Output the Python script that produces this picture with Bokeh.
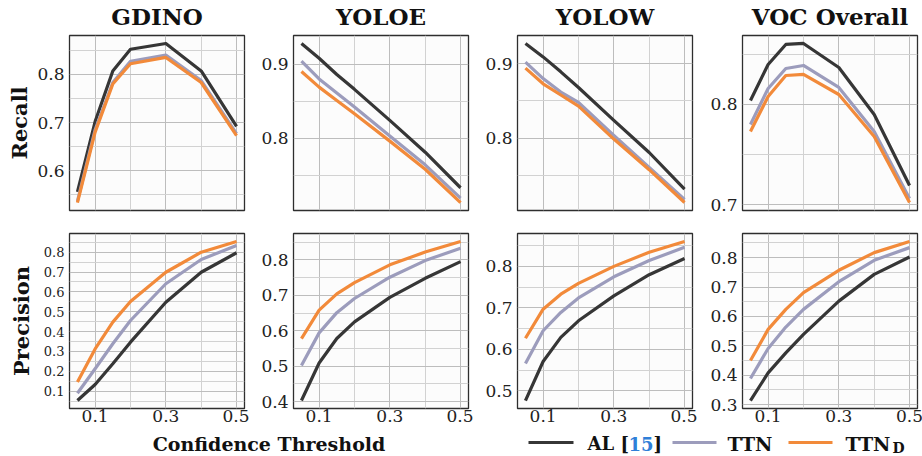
from bokeh.plotting import figure
from bokeh.layouts import column, row
from bokeh.models import Range1d, FixedTicker
from bokeh.embed import file_html
from bokeh.resources import INLINE
from bokeh.core.properties import value

# ---------------- data ----------------
thresholds = [0.05, 0.1, 0.15, 0.2, 0.3, 0.4, 0.5]
x_tick_labels = [0.1, 0.3, 0.5]
x_minor_ticks = [0.2, 0.4]
datasets = ["GDINO", "YOLOE", "YOLOW", "VOC Overall"]
series_names = ["AL [15]", "TTN", "TTN_D"]

recall_gdino_al = [0.556, 0.702, 0.807, 0.852, 0.864, 0.807, 0.692]
recall_gdino_ttn = [0.537, 0.685, 0.783, 0.827, 0.840, 0.787, 0.677]
recall_gdino_ttnd = [0.534, 0.680, 0.780, 0.822, 0.835, 0.783, 0.673]

recall_yoloe_al = [0.928, 0.908, 0.886, 0.866, 0.824, 0.781, 0.733]
recall_yoloe_ttn = [0.904, 0.880, 0.861, 0.842, 0.803, 0.764, 0.719]
recall_yoloe_ttnd = [0.890, 0.869, 0.851, 0.833, 0.796, 0.758, 0.713]

recall_yolow_al = [0.927, 0.909, 0.889, 0.868, 0.824, 0.781, 0.732]
recall_yolow_ttn = [0.902, 0.880, 0.862, 0.848, 0.804, 0.761, 0.718]
recall_yolow_ttnd = [0.894, 0.873, 0.858, 0.843, 0.799, 0.758, 0.714]

recall_voc_al = [0.804, 0.840, 0.860, 0.861, 0.837, 0.790, 0.719]
recall_voc_ttn = [0.780, 0.816, 0.836, 0.839, 0.817, 0.773, 0.706]
recall_voc_ttnd = [0.773, 0.808, 0.829, 0.830, 0.810, 0.768, 0.702]

precision_gdino_al = [0.053, 0.134, 0.238, 0.347, 0.548, 0.699, 0.797]
precision_gdino_ttn = [0.090, 0.213, 0.339, 0.456, 0.641, 0.763, 0.834]
precision_gdino_ttnd = [0.146, 0.313, 0.448, 0.552, 0.699, 0.800, 0.854]

precision_yoloe_al = [0.403, 0.509, 0.578, 0.625, 0.694, 0.748, 0.795]
precision_yoloe_ttn = [0.502, 0.594, 0.651, 0.691, 0.751, 0.798, 0.833]
precision_yoloe_ttnd = [0.578, 0.658, 0.704, 0.736, 0.786, 0.822, 0.852]

precision_yolow_al = [0.477, 0.571, 0.629, 0.669, 0.729, 0.780, 0.819]
precision_yolow_ttn = [0.566, 0.645, 0.689, 0.724, 0.775, 0.814, 0.846]
precision_yolow_ttnd = [0.627, 0.697, 0.733, 0.759, 0.800, 0.834, 0.860]

precision_voc_al = [0.314, 0.408, 0.476, 0.539, 0.652, 0.743, 0.802]
precision_voc_ttn = [0.389, 0.491, 0.564, 0.624, 0.718, 0.791, 0.834]
precision_voc_ttnd = [0.450, 0.556, 0.624, 0.681, 0.757, 0.817, 0.855]

# y tick labels (major) and minor grid positions per panel
recall_gdino_ticks = [0.6, 0.7, 0.8]
recall_gdino_minor = [0.55, 0.65, 0.75, 0.85]
recall_yoloe_ticks = [0.8, 0.9]
recall_yoloe_minor = [0.75, 0.85]
recall_yolow_ticks = [0.8, 0.9]
recall_yolow_minor = [0.75, 0.85]
recall_voc_ticks = [0.7, 0.8]
recall_voc_minor = [0.75, 0.85]
precision_gdino_ticks = [0.1, 0.2, 0.3, 0.4, 0.5, 0.6, 0.7, 0.8]
precision_gdino_minor = [0.05, 0.15, 0.25, 0.35, 0.45, 0.55, 0.65, 0.75, 0.85]
precision_yoloe_ticks = [0.4, 0.5, 0.6, 0.7, 0.8]
precision_yoloe_minor = [0.45, 0.55, 0.65, 0.75, 0.85]
precision_yolow_ticks = [0.5, 0.6, 0.7, 0.8]
precision_yolow_minor = [0.45, 0.55, 0.65, 0.75, 0.85]
precision_voc_ticks = [0.3, 0.4, 0.5, 0.6, 0.7, 0.8]
precision_voc_minor = [0.35, 0.45, 0.55, 0.65, 0.75, 0.85]

# ---------------- style / layout constants ----------------
COLORS = ["#363636", "#9c9cbc", "#f28a3a"]
SERIF = "DejaVu Serif"
FRAME = 175
LEFTS = [69, 44, 44, 45]
RIGHTS = [5, 5, 5, 6]
WIDTHS = [l + FRAME + r for l, r in zip(LEFTS, RIGHTS)]
PAGE_W = sum(WIDTHS)
HEAD_H = 30
TOP_H = 190       # 5 + 175 + 10
BOT_H = 214       # 13 + 175 + 26
FOOT_H = 456 - HEAD_H - TOP_H - BOT_H


def padded(vals_list):
    mn = min(min(v) for v in vals_list)
    mx = max(max(v) for v in vals_list)
    d = (mx - mn) * 0.05
    return mn - d, mx + d


def strip(height):
    f = figure(width=PAGE_W, height=height, output_backend="svg", toolbar_location=None,
               title=None, x_range=Range1d(0, PAGE_W), y_range=Range1d(height, 0),
               x_axis_type=None, y_axis_type=None,
               min_border_left=0, min_border_right=0, min_border_top=0, min_border_bottom=0)
    f.outline_line_color = None
    f.background_fill_color = "white"
    f.border_fill_color = "white"
    f.xgrid.visible = False
    f.ygrid.visible = False
    return f


def panel(col, series, yt, ym, top_row, ylabel=None, tick_size="17px", label_standoff=2):
    lo, hi = padded(series)
    xlo, xhi = padded([thresholds])
    if top_row:
        h, tb, bb = TOP_H, 5, 10
    else:
        h, tb, bb = BOT_H, 13, 26
    p = figure(width=WIDTHS[col], height=h, output_backend="svg",
               toolbar_location=None, title=None,
               x_range=Range1d(xlo, xhi), y_range=Range1d(lo, hi),
               min_border_left=LEFTS[col], min_border_right=RIGHTS[col],
               min_border_top=tb, min_border_bottom=bb)
    p.background_fill_color = "#fcfcfc"
    p.border_fill_color = "white"
    p.outline_line_color = "#2e2e2e"
    p.outline_line_width = 1.3

    xt = FixedTicker(ticks=x_tick_labels, minor_ticks=x_minor_ticks)
    ytk = FixedTicker(ticks=yt, minor_ticks=ym)
    p.xaxis.ticker = xt
    p.yaxis.ticker = ytk
    p.xgrid.ticker = xt
    p.ygrid.ticker = ytk
    for g in (p.xgrid, p.ygrid):
        g.grid_line_color = "#bdbdbd"
        g.grid_line_width = 1
        g.minor_grid_line_color = "#d2d2d2"
        g.minor_grid_line_width = 1

    for ax in (p.xaxis, p.yaxis):
        ax.axis_line_color = None
        ax.major_tick_line_color = None
        ax.minor_tick_line_color = None
        ax.major_tick_out = 0
        ax.minor_tick_out = 0
        ax.major_label_text_font = SERIF
        ax.major_label_text_color = "#222222"
    p.yaxis.major_label_text_font_size = tick_size
    p.yaxis.major_label_standoff = 5
    p.xaxis.major_label_text_font_size = "17px"
    p.xaxis.major_label_standoff = 1

    if top_row:
        p.xaxis.visible = False

    if ylabel:
        p.yaxis.axis_label = ylabel
        p.yaxis.axis_label_text_font = SERIF
        p.yaxis.axis_label_text_font_style = "bold"
        p.yaxis.axis_label_text_font_size = "21px"
        p.yaxis.axis_label_standoff = label_standoff
        p.yaxis.axis_label_text_color = "#111111"

    for vals, c in zip(series, COLORS):
        p.line(thresholds, vals, line_color=c, line_width=3.2, line_join="round")
    return p


bold = dict(text_font=value(SERIF), text_font_style="bold", text_baseline="alphabetic",
            text_color="#111111")

# ---------------- header: panel titles ----------------
head = strip(HEAD_H)
starts = [sum(WIDTHS[:i]) for i in range(4)]
centers = [s + l + FRAME / 2 for s, l in zip(starts, LEFTS)]
head.text(x=centers, y=[16] * 4, text=datasets, text_align="center",
          text_font_size="23px", **bold)

top = [
    panel(0, [recall_gdino_al, recall_gdino_ttn, recall_gdino_ttnd], recall_gdino_ticks, recall_gdino_minor, True, "Recall"),
    panel(1, [recall_yoloe_al, recall_yoloe_ttn, recall_yoloe_ttnd], recall_yoloe_ticks, recall_yoloe_minor, True),
    panel(2, [recall_yolow_al, recall_yolow_ttn, recall_yolow_ttnd], recall_yolow_ticks, recall_yolow_minor, True),
    panel(3, [recall_voc_al, recall_voc_ttn, recall_voc_ttnd], recall_voc_ticks, recall_voc_minor, True),
]
bottom = [
    panel(0, [precision_gdino_al, precision_gdino_ttn, precision_gdino_ttnd], precision_gdino_ticks, precision_gdino_minor, False, "Precision", tick_size="13px", label_standoff=7),
    panel(1, [precision_yoloe_al, precision_yoloe_ttn, precision_yoloe_ttnd], precision_yoloe_ticks, precision_yoloe_minor, False),
    panel(2, [precision_yolow_al, precision_yolow_ttn, precision_yolow_ttnd], precision_yolow_ticks, precision_yolow_minor, False),
    panel(3, [precision_voc_al, precision_voc_ttn, precision_voc_ttnd], precision_voc_ticks, precision_voc_minor, False),
]

# ---------------- footer: x label + legend ----------------
foot = strip(FOOT_H)
foot.text(x=[(centers[0] + centers[1]) / 2], y=[9], text=["Confidence Threshold"],
          text_align="center", text_font_size="19px", **bold)

# legend sample lines
foot.segment(x0=[528, 672, 788], y0=[8, 8, 8], x1=[573, 716, 832], y1=[8, 8, 8],
             line_color=COLORS, line_width=3.2)
# legend labels
foot.text(x=[587], y=[9], text=["AL ["], text_align="left", text_font_size="18px", **bold)
foot.text(x=[628], y=[9], text=["15"], text_align="left", text_font_size="18px",
          text_font=value(SERIF), text_font_style="bold", text_baseline="alphabetic",
          text_color="#2f7fd8")
foot.text(x=[653], y=[9], text=["]"], text_align="left", text_font_size="18px", **bold)
foot.text(x=[727], y=[9], text=["TTN"], text_align="left", text_font_size="19px", **bold)
foot.text(x=[845], y=[9], text=["TTN"], text_align="left", text_font_size="19px", **bold)
foot.text(x=[892], y=[13], text=["D"], text_align="left", text_font_size="14px", **bold)

layout = column(head, row(*top), row(*bottom), foot)

with open("out.html", "w") as f:
    f.write(file_html(layout, INLINE))
